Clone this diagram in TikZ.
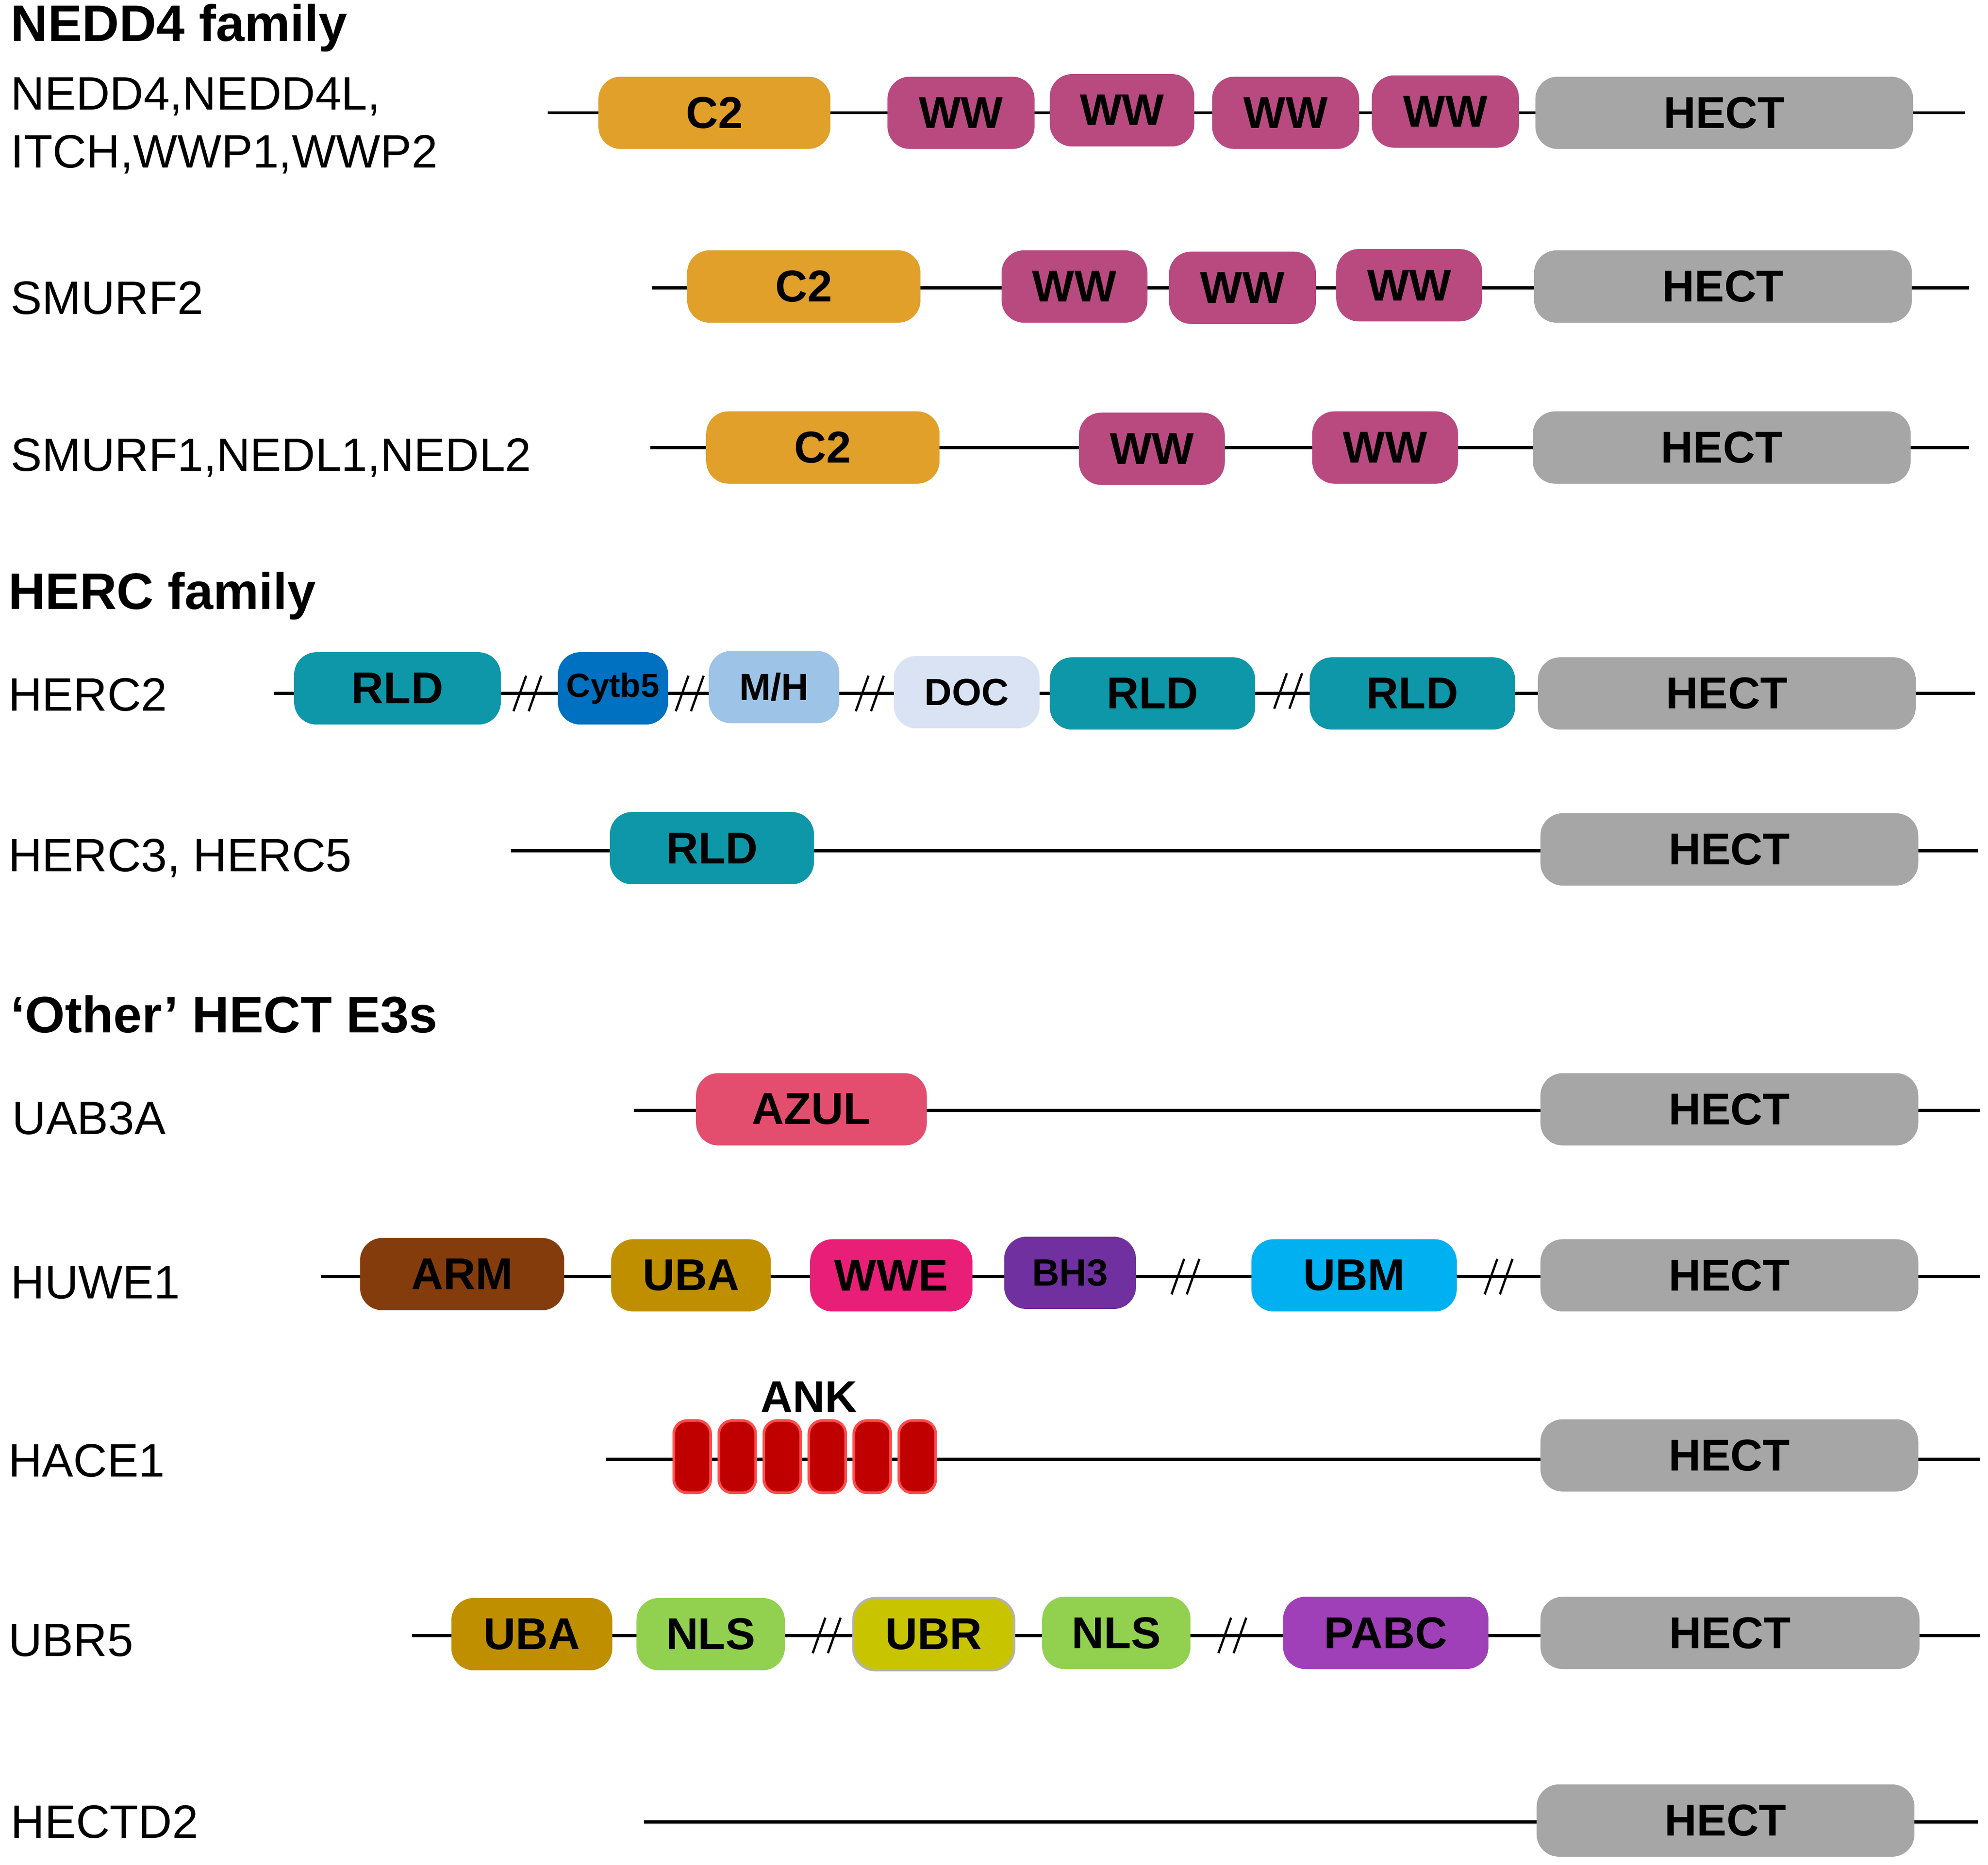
\documentclass[tikz,border=0pt]{standalone}
\usepackage{fontspec}
\setmainfont{Liberation Sans}
\begin{document}
\begin{tikzpicture}[x=0.01cm,y=-0.01cm,
  box/.style={rounded corners=5pt,draw=none,minimum height=0.57cm,inner sep=0pt,font=\fontsize{10}{12}\selectfont\bfseries},
  lab/.style={anchor=west,font=\fontsize{10.5}{13}\selectfont,align=left,inner sep=0pt},
  ttl/.style={anchor=west,font=\fontsize{11.5}{14}\selectfont\bfseries,inner sep=0pt},
  bb/.style={line width=0.7pt}]
\useasboundingbox (0,0) rectangle (1568,1471);
\definecolor{cC}{HTML}{E0A02A}\definecolor{cW}{HTML}{B84A80}\definecolor{cH}{HTML}{A6A6A6}
\definecolor{cR}{HTML}{0E97A8}\definecolor{cCy}{HTML}{0070C0}\definecolor{cM}{HTML}{9DC3E6}
\definecolor{cD}{HTML}{DAE3F3}\definecolor{cAz}{HTML}{E34E6E}\definecolor{cAr}{HTML}{843C0C}
\definecolor{cUa}{HTML}{BF8F00}\definecolor{cWe}{HTML}{E91E77}\definecolor{cB}{HTML}{7030A0}
\definecolor{cUm}{HTML}{00B0F0}\definecolor{cAn}{HTML}{C00000}\definecolor{cN}{HTML}{92D050}
\definecolor{cUr}{HTML}{C9C400}\definecolor{cP}{HTML}{A040B8}
\newcommand\bx[7][]{\node[box,fill=#5,minimum width={(#3-#2)*0.01cm},#1] (#6) at ({(#2+#3)/2},#4) {#7};}
\newcommand\bline[4]{\coordinate (#4a) at (#1,#3);\coordinate (#4b) at (#2,#3);\draw[bb] (#4a) -- (#4b);}
\newcommand\brk[2]{\draw[line width=0.5pt] (#1-11,#2+14) -- (#1-1,#2-14) (#1+1,#2+14) -- (#1+11,#2-14);}
% titles
\node[ttl] (t1) at (8,22) {NEDD4 family};
\node[ttl] (t2) at (6,470) {HERC family};
\node[ttl] (t3) at (8,800) {‘Other’ HECT E3s};
% row1
\node[lab] (l1) at (8,99) {NEDD4,NEDD4L,\\ITCH,WWP1,WWP2};
\bline{432}{1550}{89}{r1}
\bx{472}{655}{89}{cC}{c1}{C2}
\bx{700}{816}{89}{cW}{w11}{WW}\bx{828}{942}{87}{cW}{w12}{WW}
\bx{956}{1072}{89}{cW}{w13}{WW}\bx{1082}{1198}{88}{cW}{w14}{WW}
\bx{1211}{1509}{89}{cH}{h1}{HECT}
% row2
\node[lab] (l2) at (8,235) {SMURF2};
\bline{514}{1553}{227}{r2}
\bx{542}{726}{226}{cC}{c2}{C2}
\bx{790}{905}{226}{cW}{w21}{WW}\bx{922}{1038}{227}{cW}{w22}{WW}\bx{1054}{1169}{225}{cW}{w23}{WW}
\bx{1210}{1508}{226}{cH}{h2}{HECT}
% row3
\node[lab] (l3) at (8,361) {SMURF1,NEDL1,NEDL2};
\bline{513}{1553}{353}{r3}
\bx{557}{741}{353}{cC}{c3}{C2}
\bx{851}{966}{354}{cW}{w31}{WW}\bx{1035}{1150}{353}{cW}{w32}{WW}
\bx{1209}{1507}{353}{cH}{h3}{HECT}
% HERC2
\node[lab] (l4) at (6,548) {HERC2};
\bline{216}{1558}{547}{r4}
\bx{232}{395}{543}{cR}{r41}{RLD}
\brk{416}{547}
\bx[font=\fontsize{7.5}{9}\selectfont\bfseries]{440}{527}{543}{cCy}{cy}{Cytb5}
\brk{544}{547}
\bx[font=\fontsize{8.5}{10}\selectfont\bfseries]{559}{662}{542}{cM}{mh}{M/H}
\brk{686}{547}
\bx[font=\fontsize{8.5}{10}\selectfont\bfseries]{705}{820}{546}{cD}{doc}{DOC}
\bx{828}{990}{547}{cR}{r42}{RLD}
\brk{1016}{545}
\bx{1033}{1195}{547}{cR}{r43}{RLD}
\bx{1213}{1511}{547}{cH}{h4}{HECT}
% HERC3
\node[lab] (l5) at (6,677) {HERC3, HERC5};
\bline{403}{1560}{671}{r5}
\bx{481}{642}{669}{cR}{r51}{RLD}
\bx{1215}{1513}{670}{cH}{h5}{HECT}
% UAB3A
\node[lab] (l6) at (9,882) {UAB3A};
\bline{500}{1562}{876}{r6}
\bx{549}{731}{875}{cAz}{az}{AZUL}
\bx{1215}{1513}{875}{cH}{h6}{HECT}
% HUWE1
\node[lab] (l7) at (8,1012) {HUWE1};
\bline{253}{1562}{1007}{r7}
\bx{284}{445}{1005}{cAr}{arm}{ARM}
\bx{482}{608}{1006}{cUa}{uba}{UBA}
\bx{639}{767}{1006}{cWe}{wwe}{WWE}
\bx[font=\fontsize{8.5}{10}\selectfont\bfseries]{792}{896}{1004}{cB}{bh}{BH3}
\brk{935}{1007}
\bx{987}{1149}{1006}{cUm}{ubm}{UBM}
\brk{1182}{1007}
\bx{1215}{1513}{1006}{cH}{h7}{HECT}
% HACE1
\node[lab] (l8) at (6,1152) {HACE1};
\bline{478}{1562}{1151}{r8}
\foreach \i in {0,...,5}{\node[box,rounded corners=3pt,fill=cAn,draw=red!70!white,line width=0.6pt,minimum width=0.29cm] (ank\i) at ({546+35.5*\i},1149) {};}
\node[font=\fontsize{10}{12}\selectfont\bfseries,inner sep=0pt] (ankl) at (638,1102) {ANK};
\bx{1215}{1513}{1148}{cH}{h8}{HECT}
% UBR5
\node[lab] (l9) at (6,1294) {UBR5};
\bline{325}{1562}{1290}{r9}
\bx{356}{483}{1289}{cUa}{uba2}{UBA}
\bx{502}{619}{1289}{cN}{nls1}{NLS}
\brk{652}{1290}
\bx[draw=black!30,line width=0.5pt]{673}{800}{1289}{cUr}{ubr}{UBR}
\bx{822}{939}{1288}{cN}{nls2}{NLS}
\brk{972}{1290}
\bx{1012}{1174}{1288}{cP}{pabc}{PABC}
\bx{1215}{1514}{1288}{cH}{h9}{HECT}
% HECTD2
\node[lab] (l10) at (8,1437) {HECTD2};
\bline{508}{1560}{1437}{r10}
\bx{1212}{1510}{1436}{cH}{h10}{HECT}
\end{tikzpicture}
\end{document}
